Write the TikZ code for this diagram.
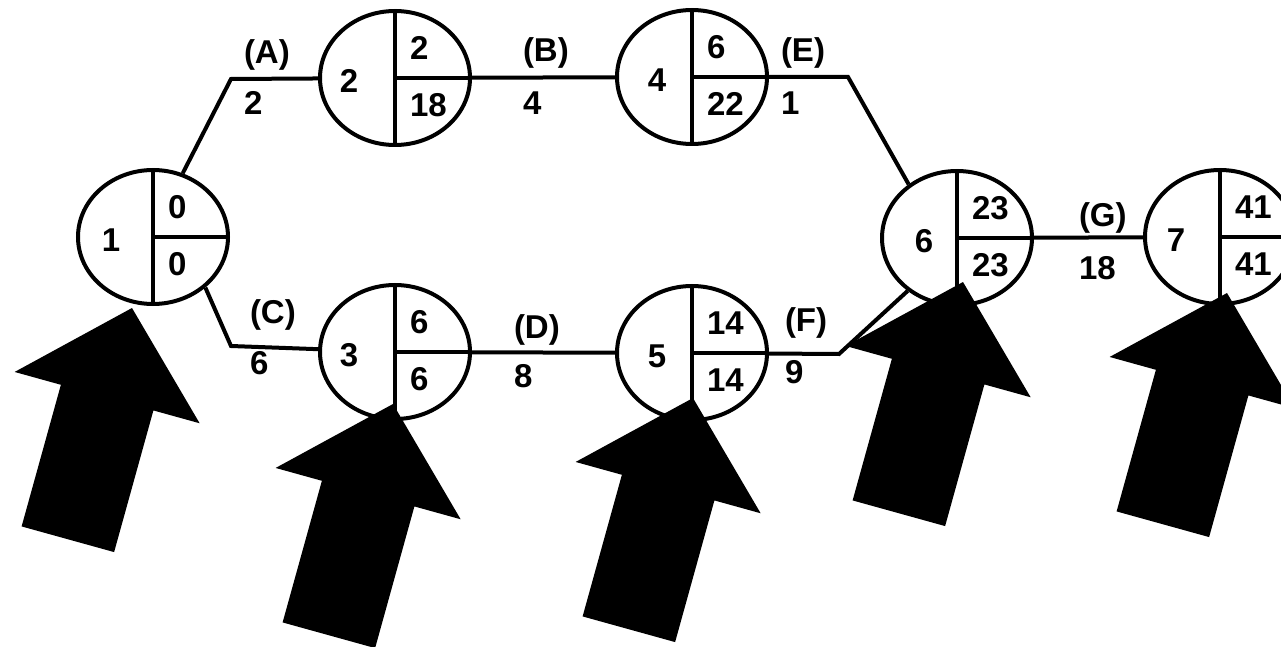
\documentclass[tikz,border=0pt]{standalone}
\usepackage{fontspec}
\setmainfont{Liberation Sans}
\usepackage{tikz}
\usetikzlibrary{shapes.geometric}

\begin{document}
\begin{tikzpicture}[x=0.5pt,y=-0.5pt,line width=2pt,
evt/.style={shape=ellipse,draw,minimum width=75pt,minimum height=67pt,inner sep=0pt},
lbl/.style={font=\fontsize{16.5}{19}\selectfont\bfseries,inner sep=0pt}]
\useasboundingbox(0,0)rectangle(1281,647);
% events: number, earliest and latest times
\foreach \n/\x/\y/\lx/\es/\ls in {1/153/237/-42/0/0,2/395/78/-46/2/18,4/692/77/-35/6/22,3/395/352/-46/6/6,5/692/353/-35/14/14,6/957/238/-33/23/23,7/1220/237/-44/41/41}{
\node[evt](n\n)at(\x,\y){};
\draw(n\n.north)--(n\n.south)(n\n.center)--(n\n.east);
\node[lbl]at(\x+\lx,\y+3){\n};
\node[lbl,anchor=west]at(\x+13,\y-30){\es};
\node[lbl,anchor=west]at(\x+13,\y+27){\ls};
}
\coordinate(cA)at(231,79);
\coordinate(cC)at(231,346);
\coordinate(cE)at(848,77);
\coordinate(cF)at(839,354);
\draw(n1.65)--(cA)--(n2);
\draw(n1.-44)--(cC)--(n3);
\draw(n2)--(n4);
\draw(n3)--(n5);
\draw(n4)--(cE)--(n6.132);
\draw(n5)--(cF)--(n6.-133);
\draw(n6)--(n7);
% activities and durations
\foreach \t/\d/\x/\ya/\yb in {A/2/242/55/103,B/4/521/53/103,E/1/779/53/103,C/6/248/315/363,D/8/512/330/376,F/9/783/323/372,G/18/1077/218/268}{
\node[lbl,anchor=west]at(\x,\ya){(\t)};
\node[lbl,anchor=west]at(\x,\yb){\d};
}
% block arrows
\foreach \tx/\ty in {132/308,393/404,693/398,963/282,1227/293}
\fill[shift={(\tx,\ty)},rotate=-15.5](0,0)--(96,93)--(48,93)--(48,240)--(-48,240)--(-48,93)--(-96,93)--cycle;
\end{tikzpicture}
\end{document}
